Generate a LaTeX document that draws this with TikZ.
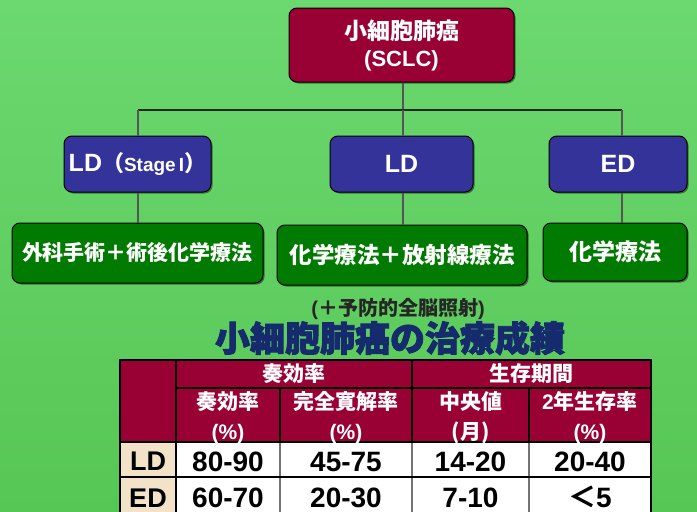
\documentclass[tikz,border=0pt]{standalone}
\usepackage{fontspec}
\setmainfont{Liberation Sans}
\newfontfamily\jp{Noto Sans CJK JP}
\newfontfamily\jpheavy{Noto Sans CJK JP}[FakeBold=2.5]
\usetikzlibrary{shadows}
\definecolor{bgtop}{RGB}{108,216,112}
\definecolor{bgbot}{RGB}{86,198,84}
\definecolor{maroon}{RGB}{153,0,51}
\definecolor{bluebox}{RGB}{51,51,153}
\definecolor{greenbox}{RGB}{0,122,0}
\definecolor{beige}{RGB}{242,226,200}
\definecolor{navy}{RGB}{22,42,110}
\definecolor{linegray}{RGB}{85,85,85}
\begin{document}
\begin{tikzpicture}[x=1pt,y=-1pt,
  box/.style={draw=black, line width=1pt, rounded corners=8pt, text=white,
    font=\bfseries, inner sep=0pt, align=center,
    drop shadow={shadow xshift=1.5pt, shadow yshift=-1.5pt, opacity=0.45, fill=black}},
  topbox/.style={box, fill=maroon, minimum width=225pt, minimum height=74pt},
  bluestyle/.style={box, fill=bluebox, minimum height=56pt},
  greenstyle/.style={box, fill=greenbox, minimum height=60pt},
  conn/.style={linegray, line width=1.3pt},
  hconn/.style={black!85, line width=1.3pt},
  hdr/.style={text=white, font=\bfseries\jp\fontsize{21}{30}\selectfont, align=center, inner sep=0pt},
  dat/.style={text=black, font=\bfseries\fontsize{28}{30}\selectfont, inner sep=0pt, anchor=base, text depth=0pt},
  tline/.style={black, line width=1.2pt},
  gline/.style={black!55, line width=1.2pt}
]
\useasboundingbox (0,0) rectangle (697,512);
\clip (0,0) rectangle (697,512);
\shade[top color=bgtop, bottom color=bgbot] (0,0) rectangle (697,512);

% tree
\node[topbox, font=\bfseries\fontsize{22}{27}\selectfont] (top) at (401.5,45) {{\jp\fontsize{23}{27}\selectfont 小細胞肺癌}\\(SCLC)};
\node[bluestyle, minimum width=147pt] (b1) at (137.5,164) {{\fontsize{25}{28}\selectfont LD}{\jp\fontsize{22}{28}\selectfont （}{\fontsize{19}{28}\selectfont Stage\,I}{\jp\fontsize{22}{28}\selectfont ）}};
\node[bluestyle, minimum width=143pt] (b2) at (401.5,164) {\fontsize{25}{28}\selectfont LD};
\node[bluestyle, minimum width=138pt] (b3) at (618,164) {\fontsize{25}{28}\selectfont ED};
\node[greenstyle, minimum width=251pt] (g1) at (137.5,253) {\jp\fontsize{21}{28}\selectfont 外科手術＋術後化学療法};
\node[greenstyle, minimum width=250pt] (g2) at (402,255) {\jp\fontsize{22.5}{28}\selectfont 化学療法＋放射線療法};
\node[greenstyle, minimum width=144pt, minimum height=58pt] (g3) at (615,252) {\jp\fontsize{23}{28}\selectfont 化学療法};

\coordinate (hl) at (138,110);
\coordinate (hm) at (403,110);
\coordinate (hr) at (622,110);
\draw[conn] (top.south -| hm) -- (hm);
\draw[hconn] (hl) -- (hr);
\draw[conn] (hl) -- (b1.north -| hl);
\draw[conn] (hm) -- (b2.north -| hm);
\draw[conn] (hr) -- (b3.north -| hr);
\draw[conn] (b1.south -| hl) -- (g1.north -| hl);
\draw[conn] (b2.south -| hm) -- (g2.north -| hm);
\draw[conn] (b3.south -| hr) -- (g3.north -| hr);

% titles
\node[text=black!85, font=\bfseries\fontsize{20}{24}\selectfont, inner sep=0pt] (sub) at (398,309) {(\jp＋予防的全脳照射\rmfamily)};
\node[text=navy, font=\jpheavy\bfseries\fontsize{35}{40}\selectfont, inner sep=0pt] (title) at (390,338) {小細胞肺癌の治療成績};

% table
\fill[maroon] (120,360) rectangle (651,442);
\fill[beige] (120,442) rectangle (176,520);
\fill[white] (176,442) rectangle (651,520);
\draw[gline] (280,442) -- (280,520);
\draw[gline] (412,442) -- (412,520);
\draw[gline] (529,442) -- (529,520);
\draw[tline] (176,360) -- (176,520);
\draw[tline] (176,388) -- (651,388);
\draw[tline] (412,360) -- (412,442);
\draw[tline] (280,388) -- (280,442);
\draw[tline] (529,388) -- (529,442);
\draw[tline] (120,442) -- (651,442);
\draw[tline] (120,477) -- (651,477);
\draw[black, line width=2pt] (120,520) -- (120,360) -- (651,360) -- (651,520);

\node[hdr] (h1) at (294,374) {奏効率};
\node[hdr] (h2) at (531.5,374) {生存期間};
\node[hdr] (h3) at (228,418) {奏効率\\\rmfamily(\%)};
\node[hdr] (h4) at (346,418) {完全寛解率\\\rmfamily(\%)};
\node[hdr] (h5) at (470.5,418) {中央値\\(月)};
\node[hdr] (h6) at (590,418) {\rmfamily 2\jp 年生存率\\\rmfamily(\%)};

\node[dat, font=\bfseries\fontsize{27}{30}\selectfont] (r1) at (148,470) {LD};
\node[dat, font=\bfseries\fontsize{27}{30}\selectfont] (r2) at (148,507) {ED};
\node[dat] (d11) at (228,471) {80-90};
\node[dat] (d12) at (346,471) {45-75};
\node[dat] (d13) at (470.5,471) {14-20};
\node[dat] (d14) at (590,471) {20-40};
\node[dat] (d21) at (228,507) {60-70};
\node[dat] (d22) at (346,507) {20-30};
\node[dat] (d23) at (470.5,507) {7-10};
\node[dat] (d24) at (590,507) {{\jp ＜}5};
\end{tikzpicture}
\end{document}
